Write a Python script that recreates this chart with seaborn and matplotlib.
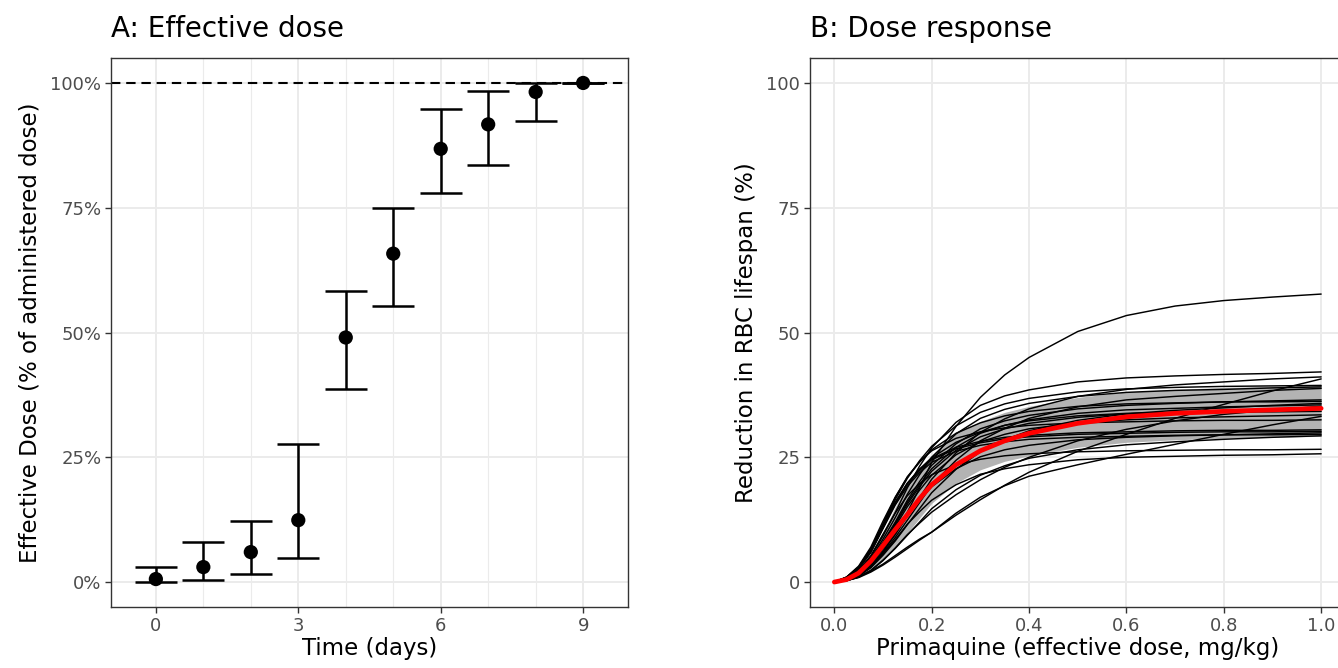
import numpy as np
import pandas as pd
import matplotlib
matplotlib.use("Agg")
import matplotlib.pyplot as plt
from matplotlib.ticker import FixedLocator
import seaborn as sns

# ---------------- Panel A data ----------------
days = [0, 1, 2, 3, 4, 5, 6, 7, 8, 9]
eff_mid = [0.6, 3.0, 6.0, 12.4, 49.0, 65.8, 86.8, 91.7, 98.2, 100.0]
eff_lo = [0.0, 0.5, 1.6, 4.8, 38.6, 55.3, 78.0, 83.5, 92.3, 100.0]
eff_hi = [3.0, 8.0, 12.3, 27.7, 58.4, 75.0, 94.8, 98.3, 100.0, 100.0]
a_xticks = [0, 3, 6, 9]
a_yticks = [0, 25, 50, 75, 100]
a_yticklabels = ["0%", "25%", "50%", "75%", "100%"]

# ---------------- Panel B data ----------------
dose = [0, 0.025, 0.05, 0.075, 0.1, 0.125, 0.15, 0.175, 0.2, 0.25,
        0.3, 0.35, 0.4, 0.5, 0.6, 0.7, 0.8, 0.9, 1.0]
curve_values = [
    [0, 0.3, 1.2, 3.0, 6.0, 9.8, 14.0, 18.8, 24.0, 31.2, 37.0, 41.5, 45.0, 50.2, 53.4, 55.3, 56.4, 57.1, 57.7],
    [0, 0.63, 2.1, 5.05, 9.26, 13.9, 18.9, 23.2, 26.9, 32.0, 35.4, 37.3, 38.5, 40.1, 40.9, 41.3, 41.6, 41.8, 42.1],
    [0, 0.41, 1.44, 3.29, 6.17, 9.45, 13.2, 16.9, 20.6, 25.9, 30.0, 32.7, 34.7, 37.2, 38.6, 39.5, 40.1, 40.7, 41.1],
    [0, 0.9, 3.0, 6.6, 11.5, 16.5, 20.8, 24.3, 27.2, 31.3, 34.0, 35.7, 36.8, 38.1, 38.7, 39.0, 39.2, 39.3, 39.4],
    [0, 0.59, 1.96, 4.69, 8.6, 12.9, 17.6, 21.5, 25.0, 29.7, 32.8, 34.6, 35.8, 37.2, 38.0, 38.4, 38.6, 38.9, 39.1],
    [0, 0.39, 1.36, 3.1, 5.82, 8.92, 12.4, 15.9, 19.4, 24.4, 28.3, 30.8, 32.8, 35.1, 36.5, 37.2, 37.8, 38.4, 38.8],
    [0, 1.0, 3.2, 7.0, 12.2, 17.0, 21.0, 24.0, 26.5, 29.8, 31.9, 33.3, 34.2, 35.2, 35.7, 35.9, 36.1, 36.1, 36.2],
    [0, 0.36, 1.25, 2.86, 5.37, 8.23, 11.5, 14.7, 17.9, 22.6, 26.1, 28.5, 30.3, 32.4, 33.7, 34.4, 34.9, 35.4, 35.8],
    [0, 0.53, 1.78, 4.26, 7.81, 11.7, 16.0, 19.5, 22.7, 27.0, 29.8, 31.4, 32.5, 33.8, 34.5, 34.8, 35.1, 35.3, 35.5],
    [0, 0.25, 1.0, 2.3, 4.3, 6.8, 9.5, 11.8, 14.0, 17.5, 20.5, 23.0, 25.0, 28.3, 30.6, 32.3, 33.6, 34.5, 35.2],
    [0, 0.95, 3.0, 6.6, 11.5, 16.0, 19.8, 22.6, 24.9, 28.0, 30.0, 31.4, 32.3, 33.3, 33.8, 34.0, 34.1, 34.1, 34.2],
    [0, 0.5, 1.68, 4.02, 7.37, 11.1, 15.1, 18.4, 21.4, 25.5, 28.1, 29.6, 30.7, 31.9, 32.5, 32.9, 33.1, 33.3, 33.5],
    [0, 0.3, 1.0, 2.2, 3.6, 5.3, 7.0, 8.6, 10.0, 13.4, 16.5, 19.4, 22.0, 26.2, 29.6, 32.8, 35.6, 38.3, 40.7],
    [0, 0.3, 0.9, 2.0, 3.4, 5.0, 6.7, 8.4, 10.0, 13.8, 17.0, 19.3, 21.2, 23.5, 25.6, 27.6, 29.6, 31.5, 33.2],
    [0, 0.92, 2.75, 6.1, 11.0, 15.9, 19.8, 22.6, 24.7, 27.0, 28.2, 29.0, 29.4, 29.9, 30.1, 30.3, 30.4, 30.4, 30.5],
    [0, 0.91, 2.72, 6.04, 10.9, 15.7, 19.6, 22.3, 24.5, 26.7, 27.9, 28.7, 29.1, 29.6, 29.8, 30.0, 30.1, 30.1, 30.2],
    [0, 0.45, 1.5, 3.59, 6.58, 9.87, 13.5, 16.4, 19.1, 22.7, 25.1, 26.5, 27.4, 28.5, 29.0, 29.3, 29.5, 29.7, 29.9],
    [0, 0.89, 2.66, 5.92, 10.7, 15.4, 19.2, 21.9, 24.0, 26.2, 27.4, 28.1, 28.6, 29.0, 29.2, 29.4, 29.5, 29.5, 29.6],
    [0, 0.29, 1.03, 2.34, 4.4, 6.74, 9.38, 12.0, 14.7, 18.5, 21.4, 23.3, 24.8, 26.5, 27.5, 28.1, 28.6, 29.0, 29.3],
    [0, 0.8, 2.39, 5.32, 9.58, 13.8, 17.3, 19.7, 21.5, 23.5, 24.6, 25.3, 25.7, 26.1, 26.3, 26.4, 26.5, 26.5, 26.6],
    [0, 0.39, 1.29, 3.08, 5.65, 8.48, 11.6, 14.1, 16.4, 19.5, 21.6, 22.7, 23.5, 24.5, 25.0, 25.2, 25.4, 25.5, 25.7],
    [0, 0.98, 2.93, 6.5, 11.7, 16.9, 21.1, 24.1, 26.3, 28.8, 30.1, 30.9, 31.4, 31.9, 32.1, 32.3, 32.4, 32.4, 32.5],
    [0, 0.52, 1.74, 4.16, 7.63, 11.5, 15.6, 19.1, 22.2, 26.4, 29.1, 30.7, 31.8, 33.0, 33.7, 34.0, 34.3, 34.5, 34.7],
    [0, 0.55, 1.83, 4.38, 8.03, 12.0, 16.4, 20.1, 23.4, 27.7, 30.7, 32.3, 33.4, 34.7, 35.4, 35.8, 36.1, 36.3, 36.5],
]
ribbon_lo = [0, 0.3, 1.0, 2.4, 4.5, 7.0, 9.8, 12.8, 15.8, 19.8, 22.5, 24.2, 25.3, 27.0, 28.0, 28.5, 28.8, 29.0, 29.2]
ribbon_hi = [0, 0.7, 2.4, 5.6, 10.0, 15.0, 19.5, 22.8, 25.5, 29.8, 32.2, 34.0, 35.2, 37.0, 38.1, 38.6, 39.0, 39.2, 39.4]
median_curve = [0, 0.5, 1.8, 4.2, 7.3, 10.5, 13.5, 16.7, 19.5, 23.5, 26.3, 28.3, 29.8, 31.8, 33.1, 33.8, 34.2, 34.5, 34.8]
b_xticks = [0.0, 0.2, 0.4, 0.6, 0.8, 1.0]
b_yticks = [0, 25, 50, 75, 100]

# ---------------- styling ----------------
sns.set_theme(style="white")
plt.rcParams["font.family"] = ["DejaVu Sans"]

TICK_COLOR = "#4D4D4D"
BORDER = "#333333"
GRID = "#EBEBEB"
TICK_FS = 13
LABEL_FS = 16.5
TITLE_FS = 20

fig = plt.figure(figsize=(13.38, 6.68), dpi=100)
W, H = 1338, 668
axA = fig.add_axes([111 / W, 1 - 607 / H, (628 - 111) / W, (607 - 58) / H])
axB = fig.add_axes([810 / W, 1 - 607 / H, (1345.5 - 810) / W, (607 - 58) / H])


def style_axes(ax):
    for sp in ax.spines.values():
        sp.set_color(BORDER)
        sp.set_linewidth(1.0)
        sp.set_visible(True)
    ax.tick_params(axis="both", which="major", length=4, width=1.0, color=BORDER,
                   labelcolor=TICK_COLOR, labelsize=TICK_FS, pad=3, direction="out",
                   bottom=True, left=True)
    ax.tick_params(axis="both", which="minor", length=0)
    ax.set_axisbelow(True)
    ax.grid(True, which="major", color=GRID, linewidth=1.4)


# ---------------- Panel A ----------------
dfA = pd.DataFrame({"day": days, "mid": eff_mid, "lo": eff_lo, "hi": eff_hi})
style_axes(axA)
axA.xaxis.set_minor_locator(FixedLocator([1, 2, 4, 5, 7, 8]))
axA.grid(True, which="minor", axis="x", color=GRID, linewidth=0.8)
axA.axhline(100, color="black", linewidth=1.5, linestyle=(0, (4.5, 2.8)), zorder=1)
axA.errorbar(dfA["day"], dfA["mid"],
             yerr=[dfA["mid"] - dfA["lo"], dfA["hi"] - dfA["mid"]],
             fmt="none", ecolor="black", elinewidth=1.8, capsize=15.4, capthick=1.8,
             zorder=2)
sns.scatterplot(data=dfA, x="day", y="mid", color="black", s=105, edgecolor="none",
                ax=axA, zorder=3, legend=False)
axA.set_xlim(-0.945, 9.945)
axA.set_ylim(-5, 105)
axA.set_xticks(a_xticks)
axA.set_xticklabels([str(t) for t in a_xticks])
axA.set_yticks(a_yticks)
axA.set_yticklabels(a_yticklabels)
axA.set_xlabel("Time (days)", fontsize=LABEL_FS, labelpad=2, color="black")
axA.set_ylabel("Effective Dose (% of administered dose)", fontsize=LABEL_FS,
               labelpad=6, color="black")
axA.set_title("A: Effective dose", loc="left", fontsize=TITLE_FS, pad=15, color="black")

# ---------------- Panel B ----------------
style_axes(axB)
long_rows = []
for cid, vals in enumerate(curve_values):
    for xv, yv in zip(dose, vals):
        long_rows.append({"curve": cid, "dose": xv, "value": yv})
dfB = pd.DataFrame(long_rows)
axB.fill_between(dose, ribbon_lo, ribbon_hi, color="#B3B3B3", linewidth=0, zorder=1)
sns.lineplot(data=dfB, x="dose", y="value", units="curve", estimator=None,
             color="black", linewidth=1.05, ax=axB, zorder=2, legend=False)
sns.lineplot(x=dose, y=median_curve, color="red", linewidth=3.4, ax=axB, zorder=3)
axB.set_xlim(-0.05, 1.05)
axB.set_ylim(-5, 105)
axB.set_xticks(b_xticks)
axB.set_xticklabels([f"{t:.1f}" for t in b_xticks])
axB.set_yticks(b_yticks)
axB.set_yticklabels([str(t) for t in b_yticks])
axB.set_xlabel("Primaquine (effective dose, mg/kg)", fontsize=LABEL_FS, labelpad=2,
               color="black")
axB.set_ylabel("Reduction in RBC lifespan (%)", fontsize=LABEL_FS, labelpad=6,
               color="black")
axB.set_title("B: Dose response", loc="left", fontsize=TITLE_FS, pad=15, color="black")

fig.savefig("out.png", dpi=100)
